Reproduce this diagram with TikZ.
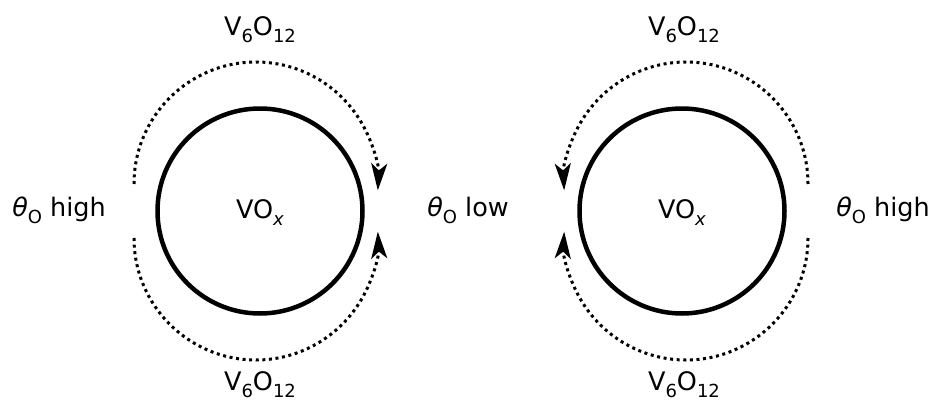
\documentclass[tikz,border=0pt]{standalone}
\usepackage{fontspec}
\setmainfont{DejaVu Sans}
\usetikzlibrary{arrows.meta}
\newcommand\lowsub[1]{\raisebox{-0.3em}{\fontsize{18bp}{19bp}\selectfont #1}}
\tikzset{
  ring/.style={draw, line width=4.5bp},
  flow/.style={line width=3bp, dash pattern=on 3bp off 3.6bp,
    -{Stealth[length=27bp, width=16bp, inset=7bp]}},
  lbl/.style={font=\fontsize{25.5bp}{27bp}\selectfont, inner sep=0pt, anchor=base}
}
\begin{document}
\begin{tikzpicture}[x=1bp, y=1bp]
\useasboundingbox (0,0) rectangle (932,403);
% left circle
\coordinate (cL) at (260,192);
\draw[ring] (cL) circle[radius=102.5];
\node[lbl] (voxL) at (260,185) {VO\lowsub{\itshape x}};
% left arcs
\coordinate (aLt) at (134,219);
\coordinate (aLb) at (134,165);
\draw[flow] (aLt) arc[start angle=180, end angle=-3, radius=122];
\draw[flow] (aLb) arc[start angle=180, end angle=363, radius=122];
% right circle
\coordinate (cR) at (682,192);
\draw[ring] (cR) circle[radius=102.5];
\node[lbl] (voxR) at (682,185) {VO\lowsub{\itshape x}};
% right arcs
\coordinate (aRt) at (808,219);
\coordinate (aRb) at (808,165);
\draw[flow] (aRt) arc[start angle=0, end angle=183, radius=122];
\draw[flow] (aRb) arc[start angle=0, end angle=-183, radius=122];
% labels
\node[lbl] (hiL) at (59,187) {{\itshape θ}\lowsub{O} high};
\node[lbl] (lo) at (468,187) {{\itshape θ}\lowsub{O} low};
\node[lbl] (hiR) at (883,187) {{\itshape θ}\lowsub{O} high};
\node[lbl] (tL) at (260,368) {V\lowsub{6}O\lowsub{12}};
\node[lbl] (bL) at (260,13) {V\lowsub{6}O\lowsub{12}};
\node[lbl] (tR) at (684,368) {V\lowsub{6}O\lowsub{12}};
\node[lbl] (bR) at (684,13) {V\lowsub{6}O\lowsub{12}};
\end{tikzpicture}
\end{document}
